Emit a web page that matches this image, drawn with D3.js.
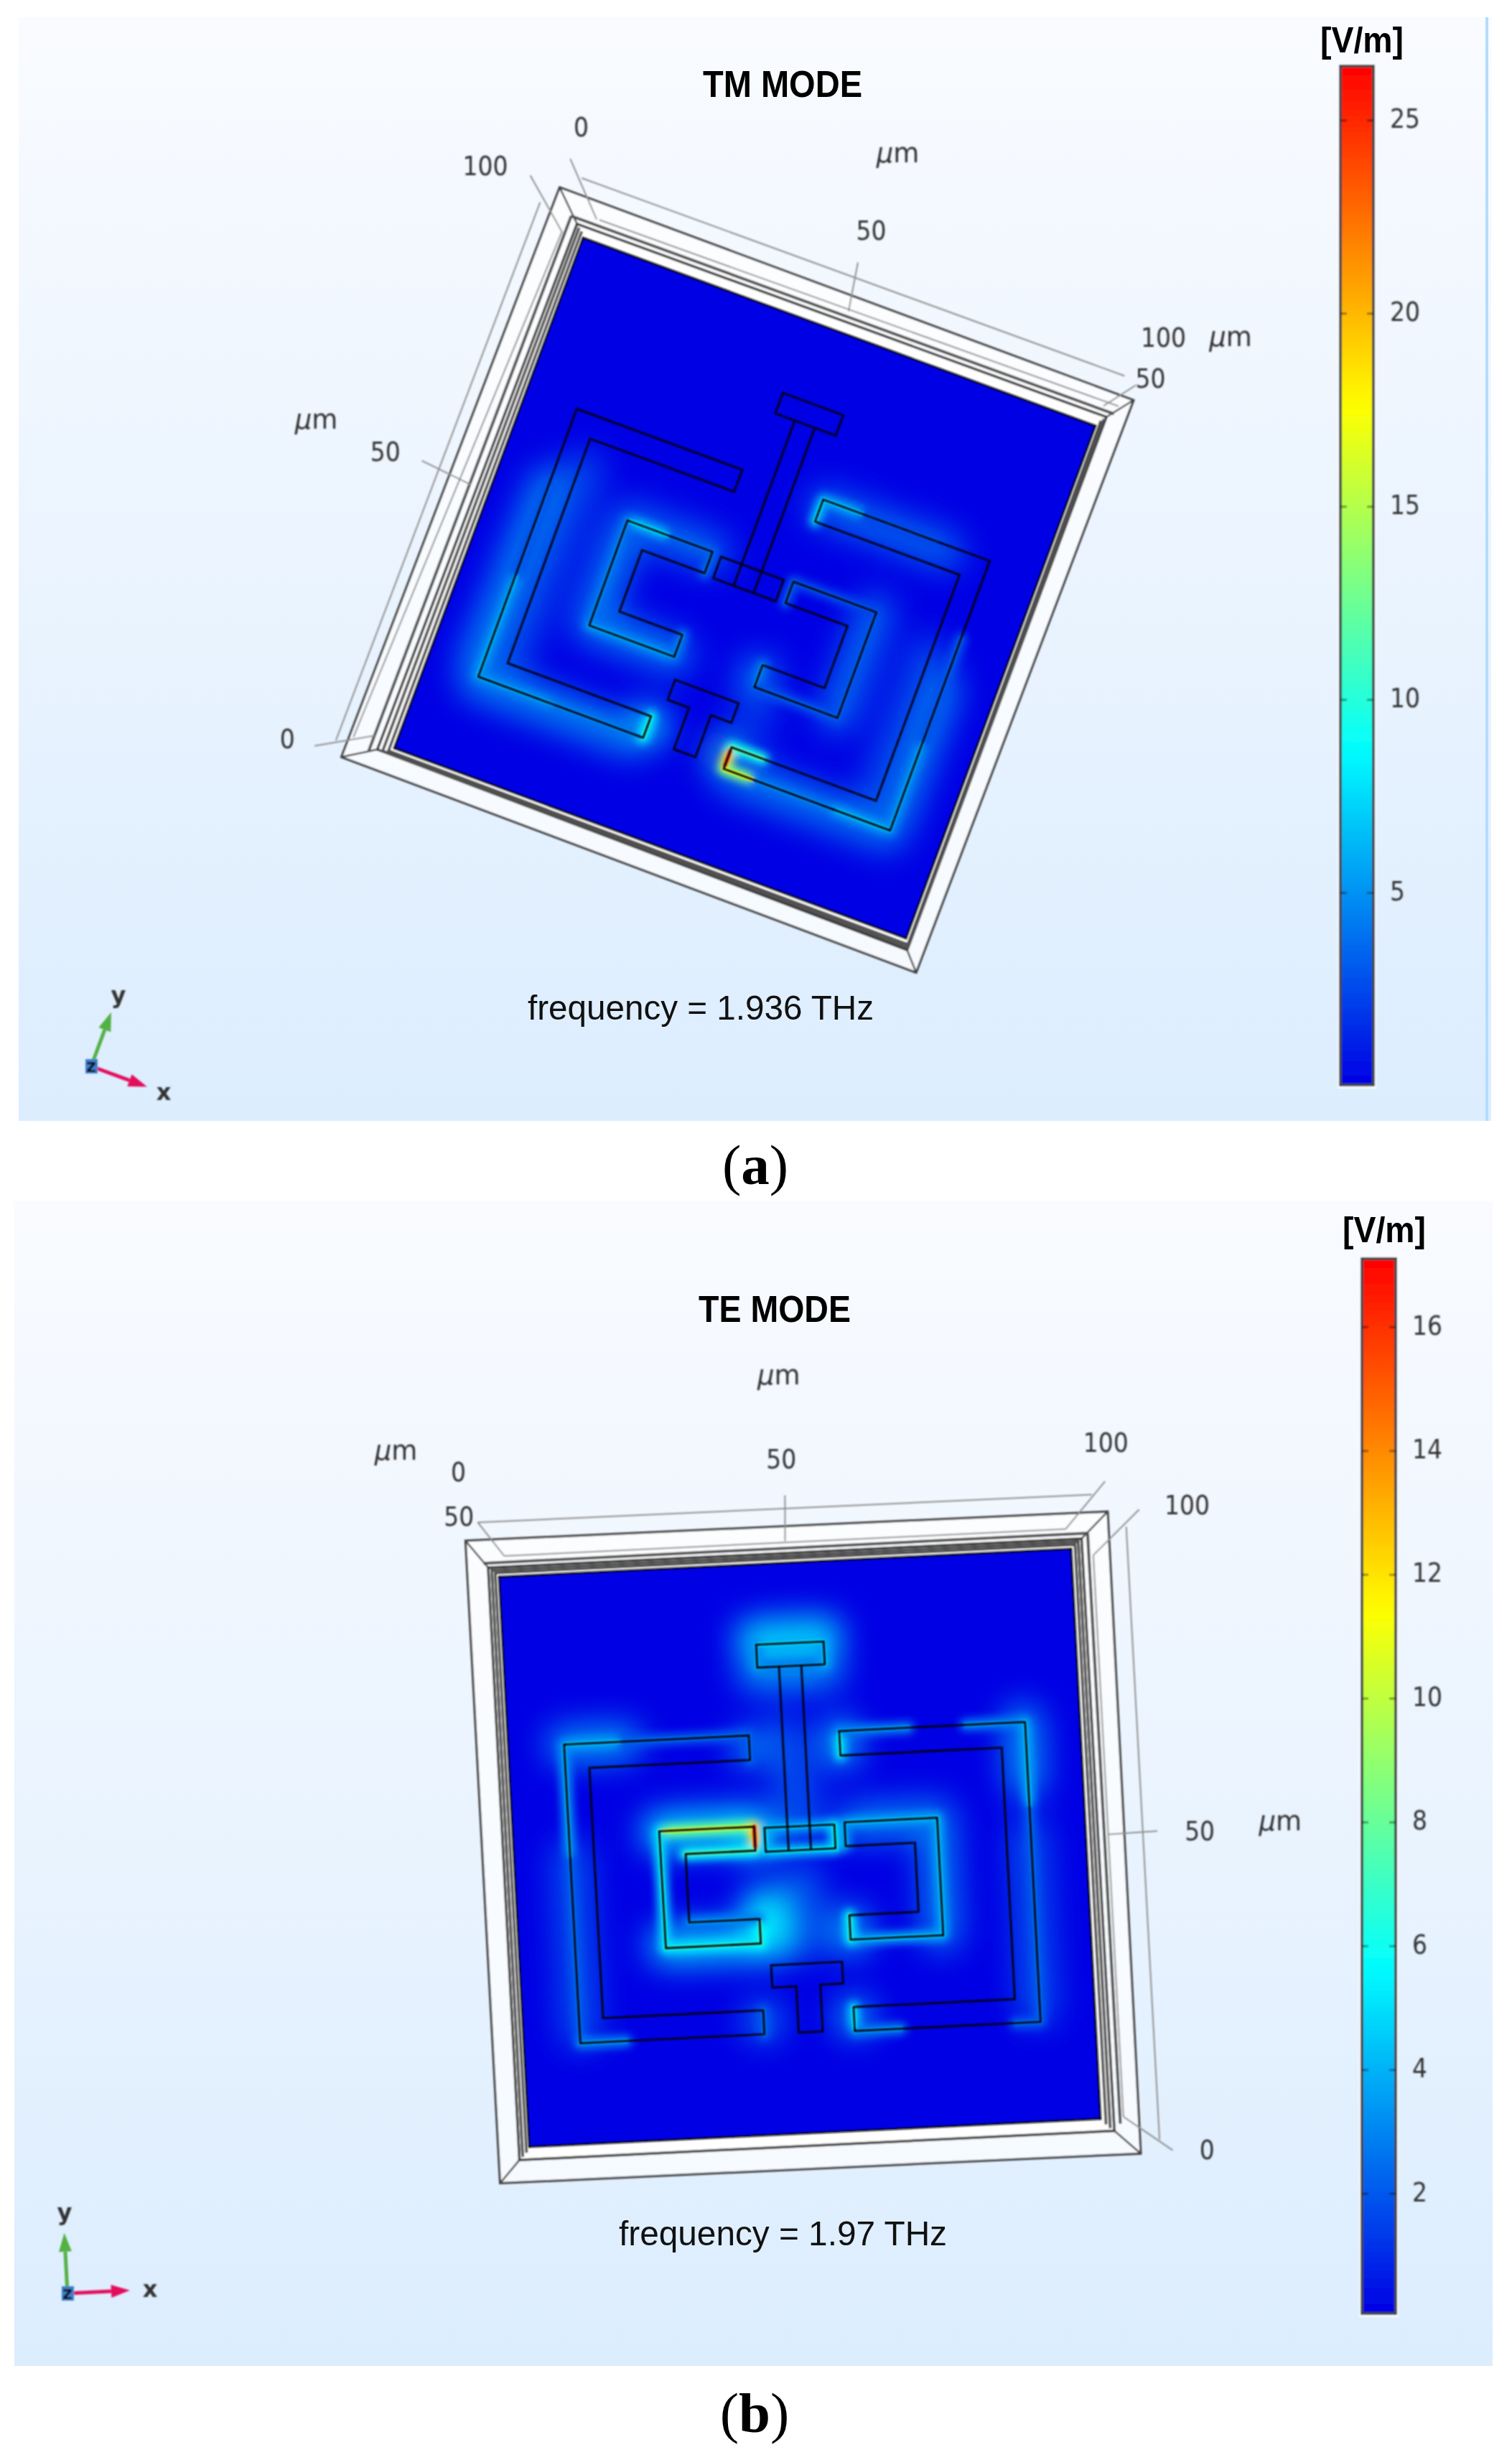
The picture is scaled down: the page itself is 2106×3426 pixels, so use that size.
<!DOCTYPE html>
<html>
<head>
<meta charset="utf-8">
<title>TM and TE mode field maps</title>
<script src="https://cdn.jsdelivr.net/npm/d3@7"></script>
<style>
  body { margin: 0; background: #fff; }
  svg { display: block; }
</style>
</head>
<body>
<svg id="chart" width="2106" height="3426"></svg>
<script>
// Device outlines in um, same structure in both panels
const leftOuterC = [[9.8,29.9],[42.1,29.9],[42.1,34.2],[14,34.2],[14.1,78.1],[42.1,78.1],[42.1,82.3],[9.9,82.3]];
const rightOuterC = [[57.9,29.9],[90.4,29.9],[90.4,82.5],[57.9,82.5],[57.9,78.3],[86.1,78.3],[86.1,34.2],[57.9,34.2]];
const leftInnerC = [[25.6,45.9],[42.2,45.9],[42.2,50.1],[30,50.1],[30,62.1],[42.3,62.1],[42.3,66.4],[25.7,66.4]];
const rightInnerC = [[58,45.9],[74.2,45.9],[74.2,66.5],[58,66.5],[58,62.2],[70.1,62.2],[70.1,50.1],[58,50.1]];
const centerRect = [[44,46.2],[56.2,46.2],[56.2,50.4],[44,50.4]];
const topBar = [[44.2,14.1],[56,14.1],[56,18.1],[44.2,18.1]];
const bottomT = [[43.9,70.3],[56.3,70.3],[56.3,74.1],[52.3,74.1],[52.3,82.3],[48.1,82.3],[48.1,74.2],[43.9,74.2]];
const stemLines = [[[48,18.1],[48,50.4]],[[51.9,18.1],[51.9,50.4]]];

// Box around the device in um, panel a
const outerBoxA = [[-7.2,-7.2],[104.9,-6.8],[103.9,105.2],[-8.5,104.9]];
const stepBoxA = [[-1.9,-2],[101.3,-2.2],[100.9,101.9],[-2.8,101.3]];
const wallLinesA = [[[-0.6,-1],[-0.8,100.8],[100.7,100.9],[100.6,-1.2]],[[-1.3,-1.5],[-1.8,101.2],[100.9,101.4],[101,-1.7]],[[-3.4,-3],[102.4,-3.2]],[[-3.4,-3],[-4.2,102]]];
const axisLinesA = [[[-4,-10.2],[101.8,-10.4]],[[1.7,-4.1],[102.7,-4.8]],[[-9.6,-3.4],[-10.5,102.4]],[[-4,0.3],[-7.7,100.7]]];
const tickLinesA = [[[-7.2,-12.8],[1.2,-4]],[[48.8,-13.1],[50.3,-4.1]],[[-13.5,48.7],[-3.6,49.7]],[[-13,-7.4],[-4,0.3]],[[104.4,-9.6],[100.1,-3.9]],[[-13.8,104.7],[-4.2,99.1]]];
const tickLabelsA = [["0",-7.4,-19.1],["100",-21.4,-6.4],["50",49,-19.6],["100",106,-19.6],["50",106.4,-11.7],["50",-20.4,49.3],["0",-19,105.1]];
const unitLabelsA = [[48.8,-34.2],[117.6,-23.6],[-34.2,48.5]];

// Box around the device in um, panel b
const outerBoxB = [[-5.5,-6.6],[106.7,-6.2],[106.7,106.4],[-5.4,106.1]];
const stepBoxB = [[-1.8,-1.7],[101.9,-1.7],[102.3,102.2],[-1.8,102.2]];
const wallLinesB = [[[-0.5,101],[-0.6,-0.7],[100.7,-0.7],[100.9,101]],[[-1.2,101.7],[-1.2,-1.2],[101.3,-1.2],[101.6,101.7]],[[-2.6,-2.5],[103,-2.6]],[[103,-2.6],[103.4,101]]];
const axisLinesB = [[[-3.2,-9.7],[104.1,-9.3]],[[1.1,-3.6],[99.2,-3.5]],[[109.8,-3.4],[110.1,104.1]],[[103.8,1.3],[104,99.8]]];
const tickLinesB = [[[-3.2,-9.7],[1.1,-3.6]],[[50.6,-11.8],[50.2,-3.8]],[[106.5,-11.5],[99.2,-3.5]],[[112.2,-6.3],[103.8,1.3]],[[103.9,50.3],[112.5,50.1]],[[104,99.8],[112.3,106.1]]];
const tickLabelsB = [["0",-6.1,-18.8],["50",-6.4,-11],["50",50.3,-18.3],["100",107,-18.4],["100",120.6,-6.8],["50",119.9,50.3],["0",118.3,106.2]];
const unitLabelsB = [[50.6,-32.7],[-16.8,-22.7],[134,49.7]];

// Field along the edges, [u1, v1, u2, v2, V/m]
const edgeFieldA = [
  [9.8,82.3,10,62,6.5],[10,62,10,45,3.5],[9.8,82.3,25,82.3,6],[25,82.3,42,82.3,5],[42.1,78.1,42.1,82.3,10],
  [57.9,78.3,57.9,82.5,24],[57.9,82.5,64,82.5,17],[57.9,78.3,64,78.3,12],[64,82.5,80,82.5,5],[80,82.5,90.4,82.5,7],
  [90.4,82.5,90.4,65,6],[90.4,65,90.4,45,3.5],[57.9,29.9,57.9,34.2,8],[57.9,29.9,66,29.9,7],[66,29.9,80,29.9,3],
  [25.6,45.9,34,45.9,8],[34,45.9,42.2,45.9,4],[42.2,45.9,42.2,50.1,4],[25.6,45.9,25.7,66.4,5],[25.7,66.4,42.3,66.4,6],[42.3,62.1,42.3,66.4,5],
  [74.2,45.9,74.2,66.5,3.5],[58,45.9,74.2,45.9,3],[58,62.2,58,66.5,5],[58,66.5,74.2,66.5,3.5],[58,45.9,58,50.1,3.5]
];
const haloFieldA = [
  [42,80,42,80,8],[58,80,58,80,10],[90,80,90,55,4.5],[9,80,10,45,4.5],[60,83,90,83,3.8],[10,83,40,83,4.2],
  [59,31,82,31,3.2],[26,46,26,66,3.8],[26,66,42,66,3.8],[74,46,74,66,3.2],[26,46,42,46,3.2],[58,64,58,66,3.8],
  [14,78,15,40,2.4],[86,78,86,50,2.4],[60,70,60,78,1.6]
];
const edgeFieldB = [
  [44.2,14.1,56,14.1,5],[44.2,18.1,56,18.1,3.5],[44.2,14.1,44.2,18.1,4],[56,14.1,56,18.1,4.5],
  [9.8,29.9,20,29.9,4.5],[20,29.9,42.1,29.9,2.5],[9.8,29.9,9.8,50,4],[9.8,50,9.9,82.3,2.5],[9.9,82.3,18,82.3,3.5],[42.1,78.1,42.1,82.3,2.5],[42.1,29.9,42.1,34.2,2.5],
  [57.9,29.9,57.9,34.2,6],[57.9,29.9,70,29.9,3.5],[80,29.9,90.4,29.9,3.5],[90.4,29.9,90.4,45,4.5],[90.4,45,90.4,82.5,2.5],[57.9,78.3,57.9,82.5,5.5],[57.9,82.5,66,82.5,3.5],[86,82.5,90.4,82.5,2.5],
  [25.6,45.9,42.2,45.9,10.5],[42.2,45.9,42.2,50.1,15.5],[30,50.1,42.2,50.1,7.5],[25.6,45.9,25.7,66.4,6],[25.7,66.4,42.3,66.4,6.5],[42.3,62.1,42.3,66.4,7],[30,62.1,42.3,62.1,3.5],
  [44,46.2,56.2,46.2,4.5],[44,50.4,56.2,50.4,5.5],[44,46.2,44,50.4,5],[56.2,46.2,56.2,50.4,6],
  [58,45.9,74.2,45.9,4.5],[74.2,45.9,74.2,66.5,4.5],[58,66.5,74.2,66.5,4.5],[58,62.2,58,66.5,6.5],[58,45.9,58,50.1,4]
];
const haloFieldB = [
  [44,13,56,13,4.6],[44,19,56,19,3],[42,32,42,32,2.8],[58,31,58,33,3.6],[10,30,20,30,3],[90,30,90,40,3],
  [26,46,42,46,4.8],[42,48,42,48,5.5],[26,66,42,66,4.2],[43,60,44,66,5.4],[60,46,74,46,2.6],[74,46,74,66,2.6],
  [58,64,58,66,3.4],[58,80,58,80,3.4],[42,80,42,80,2.6],[48,30,51,46,1.8],[50,56,50,66,2],[10,50,10,80,1.7],[90,50,90,80,1.7]
];

// Colour bars
const ticksA = [5, 10, 15, 20, 25];
const ticksB = [2, 4, 6, 8, 10, 12, 14, 16];
const rangeA = [0.02, 26.4];
const rangeB = [0.06, 17.1];
const rainbowStops = [0, 0.33, 0.5, 0.665, 0.83, 1];
const rainbowColors = ["#0000e4", "#00ffff", "#80ff80", "#ffff00", "#ff8000", "#ff0000"];

const titles = ["TM MODE", "TE MODE"];
const frequencies = ["frequency = 1.936 THz", "frequency = 1.97 THz"];

const rainbow = d3.scaleLinear().domain(rainbowStops).range(rainbowColors).clamp(true);
const pageFont = "'Liberation Sans', Arial, sans-serif";
const tickFont = "'DejaVu Sans', sans-serif";
const svg = d3.select("#chart");
const defs = svg.append("defs");

// blur levels, applied on groups so thin lines do not lose their box
[["soft", 0.9], ["core", 1.4], ["mid", 6], ["wide", 22]].forEach(([id, dev]) => {
  defs.append("filter").attr("id", id)
    .attr("filterUnits", "userSpaceOnUse")
    .attr("x", 0).attr("y", 0).attr("width", 2106).attr("height", 3426)
    .append("feGaussianBlur").attr("stdDeviation", dev);
});

const pageGrad = defs.append("linearGradient").attr("id", "pageGrad").attr("x2", 0).attr("y2", 1);
pageGrad.append("stop").attr("offset", 0).attr("stop-color", "#f9fbff");
pageGrad.append("stop").attr("offset", 1).attr("stop-color", "#dcedfe");

const barGrad = defs.append("linearGradient").attr("id", "barGrad").attr("x2", 0).attr("y2", 1);
d3.range(0, 1.001, 0.02).forEach(t => {
  barGrad.append("stop").attr("offset", t).attr("stop-color", rainbow(1 - t));
});

// bilinear mapping from um on the device plane to the page
function makeView(corners) {
  const unit = d3.scaleLinear().domain([0, 100]).range([0, 1]);
  return ([u, v]) => {
    const a = unit(u), b = unit(v);
    return [0, 1].map(k =>
      (1 - a) * (1 - b) * corners[0][k] + a * (1 - b) * corners[1][k] +
      a * b * corners[2][k] + (1 - a) * b * corners[3][k]);
  };
}

function drawPanel(cfg) {
  const g = svg.append("g");
  const project = makeView(cfg.corners);
  const open = d3.line().x(d => project(d)[0]).y(d => project(d)[1]);
  const closed = pts => open(pts) + "Z";
  const quad = [[0,0],[100,0],[100,100],[0,100]];
  const fieldColor = v => rainbow(v / cfg.range[1]);

  g.append("rect").attr("x", cfg.box[0]).attr("y", cfg.box[1])
    .attr("width", cfg.box[2] - cfg.box[0]).attr("height", cfg.box[3] - cfg.box[1])
    .attr("fill", "url(#pageGrad)");
  if (cfg.edgeStrip) {
    g.append("rect").attr("x", cfg.edgeStrip).attr("y", cfg.box[1])
      .attr("width", 4).attr("height", cfg.box[3] - cfg.box[1]).attr("fill", "#b5dcfb");
  }

  // frame
  const frame = g.append("g").attr("filter", "url(#soft)");
  frame.append("path").attr("d", closed(cfg.outerBox))
    .attr("fill", "#fff").attr("fill-opacity", 0.7).attr("stroke", "#3a3a3a").attr("stroke-width", 3);
  frame.selectAll(".bevel").data(d3.range(4)).join("path")
    .attr("d", i => open([cfg.outerBox[i], cfg.stepBox[i]]))
    .attr("stroke", "#444").attr("stroke-width", 2.5).attr("fill", "none");
  frame.append("path").attr("d", closed(cfg.stepBox))
    .attr("fill", "#fff").attr("stroke", "#333").attr("stroke-width", 3.5);
  frame.selectAll(".wall").data(cfg.wallLines).join("path")
    .attr("d", d => open(d)).attr("fill", "none").attr("stroke", "#505050").attr("stroke-width", 4);
  frame.selectAll(".axis").data(cfg.axisLines.concat(cfg.tickLines)).join("path")
    .attr("d", d => open(d)).attr("fill", "none").attr("stroke", "#8f8f8f").attr("stroke-width", 2);

  // field map
  const clipId = "clip" + cfg.id;
  defs.append("clipPath").attr("id", clipId).append("path").attr("d", closed(quad));
  const field = g.append("g").attr("clip-path", `url(#${clipId})`);
  field.append("path").attr("d", closed(quad)).attr("fill", rainbow(0));

  const segPath = d => open([[d[0], d[1]], [d[2], d[3]]]);
  field.append("g").attr("filter", "url(#wide)")
    .selectAll("path").data(cfg.halo).join("path")
    .attr("d", segPath).attr("fill", "none").attr("stroke", d => fieldColor(d[4]))
    .attr("stroke-width", 54).attr("stroke-linecap", "round");
  field.append("g").attr("filter", "url(#mid)")
    .selectAll("path").data(cfg.edges).join("path")
    .attr("d", segPath).attr("fill", "none").attr("stroke", d => fieldColor(d[4] * 0.78))
    .attr("stroke-width", 17).attr("stroke-linecap", "round");
  field.append("g").attr("filter", "url(#core)")
    .selectAll("path").data(cfg.edges).join("path")
    .attr("d", segPath).attr("fill", "none").attr("stroke", d => fieldColor(d[4]))
    .attr("stroke-width", 6).attr("stroke-linecap", "round");

  // device outlines
  const device = g.append("g").attr("filter", "url(#soft)")
    .attr("fill", "none").attr("stroke", "#050518").attr("stroke-width", 2.8);
  device.selectAll(".outline")
    .data([leftOuterC, rightOuterC, leftInnerC, rightInnerC, centerRect, topBar, bottomT]).join("path")
    .attr("d", closed);
  device.selectAll(".stem").data(stemLines).join("path").attr("d", d => open(d));
  g.append("path").attr("d", closed(quad)).attr("fill", "none")
    .attr("stroke", "#111").attr("stroke-width", 2.5).attr("filter", "url(#soft)");

  // labels on the axes
  const labels = g.append("g").attr("font-family", tickFont).attr("fill", "#333").attr("filter", "url(#soft)");
  labels.selectAll(".tick").data(cfg.tickLabels).join("text")
    .attr("x", d => project([d[1], d[2]])[0]).attr("y", d => project([d[1], d[2]])[1])
    .attr("dy", "0.37em").attr("text-anchor", "middle").attr("font-size", 38)
    .attr("textLength", d => d[0].length * 21).attr("lengthAdjust", "spacingAndGlyphs")
    .text(d => d[0]);
  const units = labels.selectAll(".unit").data(cfg.unitLabels).join("text")
    .attr("x", d => project(d)[0]).attr("y", d => project(d)[1])
    .attr("dy", "0.3em").attr("text-anchor", "middle").attr("font-size", 37);
  units.append("tspan").attr("font-style", "italic").text("\u03bc");
  units.append("tspan").text("m");

  // title and frequency
  g.append("text").attr("x", cfg.title[0]).attr("y", cfg.title[1]).attr("font-family", pageFont)
    .attr("font-weight", "bold").attr("font-size", 52)
    .attr("textLength", cfg.title[2]).attr("lengthAdjust", "spacingAndGlyphs").text(cfg.titleText);
  g.append("text").attr("x", cfg.freq[0]).attr("y", cfg.freq[1]).attr("font-family", pageFont)
    .attr("font-size", 49).attr("fill", "#111")
    .attr("textLength", cfg.freq[2]).attr("lengthAdjust", "spacingAndGlyphs").text(cfg.freqText);

  // colour bar
  const [bx0, bx1, by0, by1] = cfg.bar;
  const yBar = d3.scaleLinear().domain(cfg.range).range([by1, by0]);
  const bar = g.append("g").attr("filter", "url(#soft)");
  bar.append("rect").attr("x", bx0 - 4).attr("y", by0 - 4).attr("width", bx1 - bx0 + 8).attr("height", by1 - by0 + 9)
    .attr("fill", "#fff").attr("fill-opacity", 0.8);
  bar.append("rect").attr("x", bx0).attr("y", by0).attr("width", bx1 - bx0).attr("height", by1 - by0)
    .attr("fill", "url(#barGrad)").attr("stroke", "#404448").attr("stroke-width", 4);
  const inner = a => a.call(s => s.select(".domain").remove())
    .call(s => s.selectAll(".tick line").attr("stroke", "#000").attr("stroke-opacity", 0.4).attr("stroke-width", 3));
  bar.append("g").attr("transform", `translate(${bx0},0)`)
    .call(d3.axisRight(yBar).tickValues(cfg.ticks).tickSize(9).tickFormat(""))
    .call(inner);
  const rightAxis = bar.append("g").attr("transform", `translate(${bx1},0)`)
    .call(d3.axisRight(yBar).tickValues(cfg.ticks).tickSize(-9).tickPadding(23))
    .call(inner);
  rightAxis.selectAll(".tick text")
    .attr("dy", "0.27em")
    .attr("font-family", tickFont).attr("font-size", 38).attr("fill", "#333")
    .attr("textLength", d => String(d).length * 21).attr("lengthAdjust", "spacingAndGlyphs");
  g.append("text").attr("x", cfg.unit[0]).attr("y", cfg.unit[1]).attr("font-family", pageFont)
    .attr("font-weight", "bold").attr("font-size", 50)
    .attr("textLength", cfg.unit[2]).attr("lengthAdjust", "spacingAndGlyphs").text("[V/m]");

  // triad, its arms run along the device axes
  const [ox, oy] = cfg.origin;
  const zero = project([0, 0]);
  const armEnd = (u, v) => {
    const p = project([u, v]);
    return [ox + p[0] - zero[0], oy + p[1] - zero[1]];
  };
  const triad = g.append("g").attr("filter", "url(#soft)");
  [[armEnd(10.9, 0), "#e3115c"], [armEnd(0, -10.6), "#52b043"]].forEach(([tip, color]) => {
    const len = Math.hypot(tip[0] - ox, tip[1] - oy);
    const ux = (tip[0] - ox) / len, uy = (tip[1] - oy) / len;
    const bx = tip[0] - ux * 26, by = tip[1] - uy * 26;
    triad.append("line").attr("x1", ox).attr("y1", oy).attr("x2", bx).attr("y2", by)
      .attr("stroke", color).attr("stroke-width", 5);
    triad.append("path")
      .attr("d", d3.line()([tip, [bx - uy * 9, by + ux * 9], [bx + uy * 9, by - ux * 9]]) + "Z")
      .attr("fill", color);
  });
  triad.append("rect").attr("x", ox - 8).attr("y", oy - 10).attr("width", 17).attr("height", 20).attr("fill", "#3f7fc6");
  triad.append("text").attr("x", ox).attr("y", oy + 8).attr("text-anchor", "middle")
    .attr("font-family", tickFont).attr("font-weight", "bold").attr("font-size", 24).attr("fill", "#0a0a20").text("z");
  [["y", cfg.yLabel], ["x", cfg.xLabel]].forEach(([t, p]) => {
    triad.append("text").attr("x", p[0]).attr("y", p[1]).attr("dy", "0.3em").attr("text-anchor", "middle")
      .attr("font-family", tickFont).attr("font-weight", "bold").attr("font-size", 32).attr("fill", "#333").text(t);
  });

  // caption
  const caption = g.append("text").attr("x", cfg.caption[0]).attr("y", cfg.caption[1]).attr("text-anchor", "middle")
    .attr("font-family", "'Liberation Serif', serif").attr("font-size", 79).attr("fill", "#000");
  caption.append("tspan").text("(");
  caption.append("tspan").attr("font-weight", "bold").text(cfg.captionText);
  caption.append("tspan").text(")");
}

drawPanel({
  id: "A", box: [26, 24, 2077, 1561], edgeStrip: 2069,
  corners: [[812,331],[1526,593],[1262,1307],[549,1042]],
  outerBox: outerBoxA, stepBox: stepBoxA, wallLines: wallLinesA, axisLines: axisLinesA, tickLines: tickLinesA,
  tickLabels: tickLabelsA, unitLabels: unitLabelsA, edges: edgeFieldA, halo: haloFieldA,
  range: rangeA, ticks: ticksA, bar: [1867, 1913, 92, 1511], unit: [1839, 73, 116],
  title: [979, 135, 222], titleText: titles[0], freq: [735, 1420, 482], freqText: frequencies[0],
  origin: [127, 1485], yLabel: [165, 1387], xLabel: [228, 1522], caption: [1052, 1649], captionText: "a"
});

drawPanel({
  id: "B", box: [20, 1673, 2079, 3295],
  corners: [[695,2196],[1492,2157],[1533,2951],[737,2990]],
  outerBox: outerBoxB, stepBox: stepBoxB, wallLines: wallLinesB, axisLines: axisLinesB, tickLines: tickLinesB,
  tickLabels: tickLabelsB, unitLabels: unitLabelsB, edges: edgeFieldB, halo: haloFieldB,
  range: rangeB, ticks: ticksB, bar: [1897, 1944, 1753, 3222], unit: [1870, 1730, 116],
  title: [973, 1841, 212], titleText: titles[1], freq: [862, 3127, 457], freqText: frequencies[1],
  origin: [94, 3194], yLabel: [90, 3082], xLabel: [209, 3189], caption: [1051, 3387], captionText: "b"
});
</script>
</body>
</html>
